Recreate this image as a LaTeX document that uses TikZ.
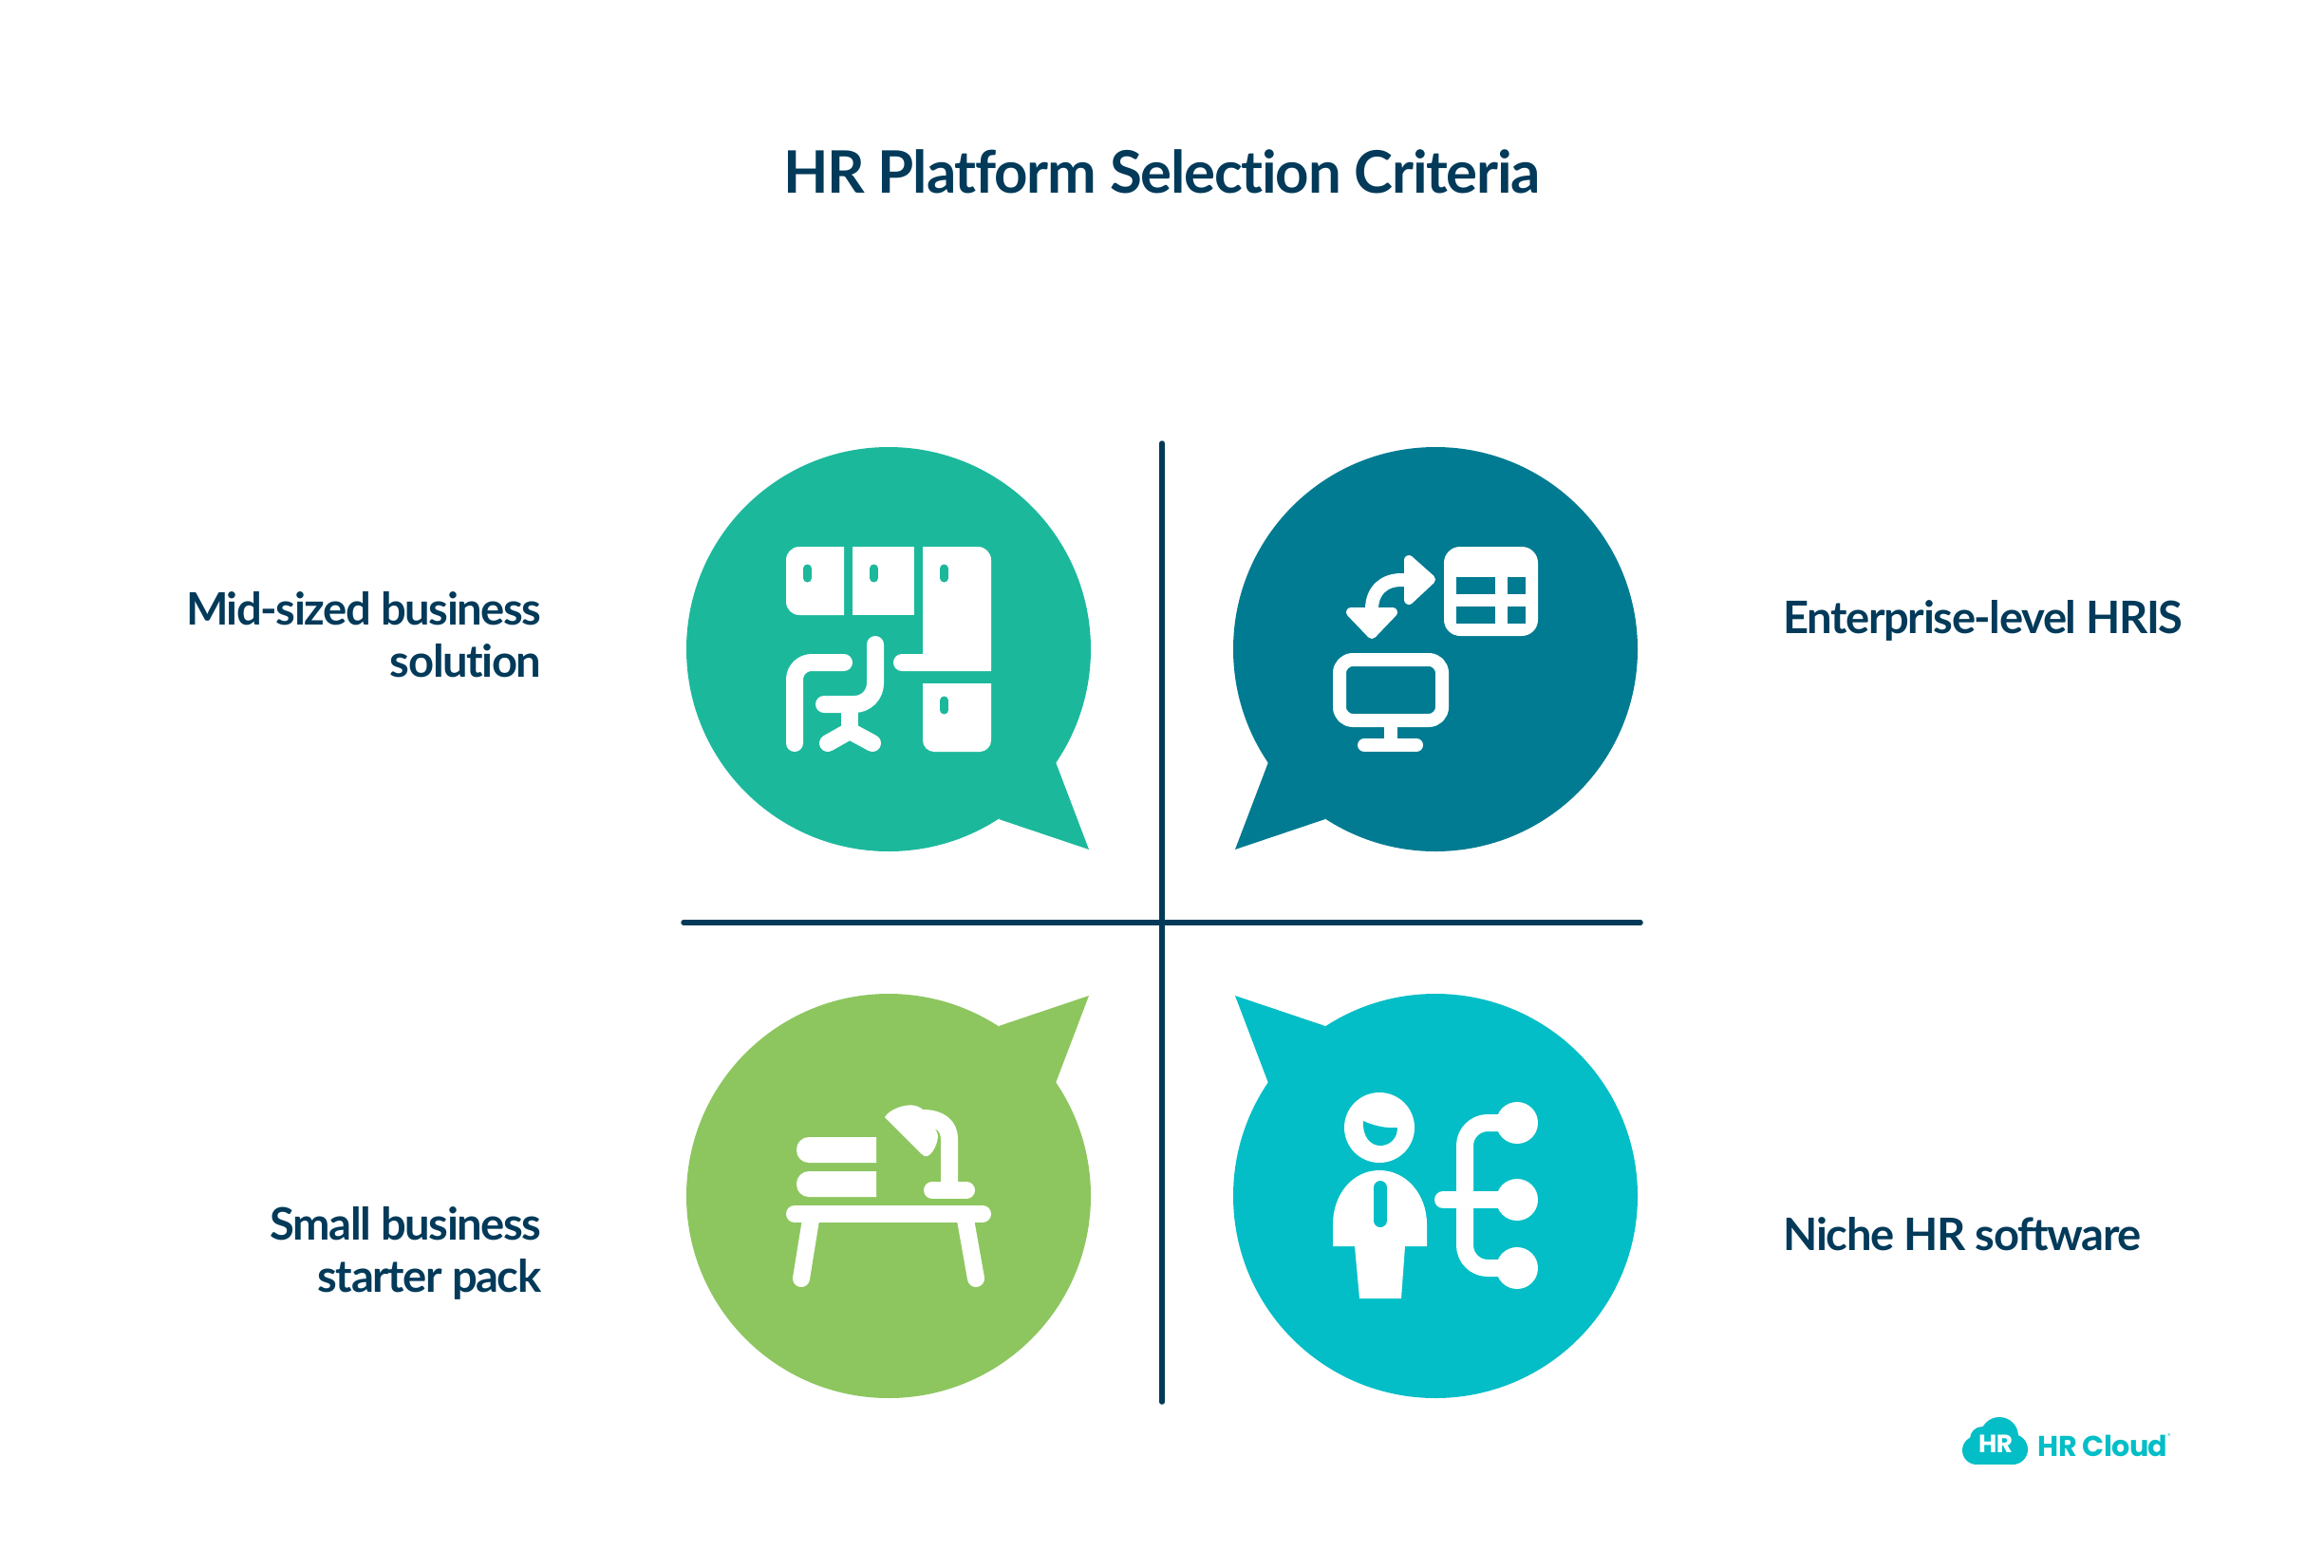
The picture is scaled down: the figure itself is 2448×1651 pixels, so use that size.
\documentclass[tikz,border=0pt]{standalone}
\usepackage{fontspec}
\setmainfont{Lato}
\newfontfamily\titlefont{Lato}[LetterSpace=-2,RawFeature=-liga]
\newfontfamily\labelfont{Lato}[LetterSpace=-3,RawFeature=-liga]
\newfontfamily\logofont{Poppins}[LetterSpace=-2]
\usetikzlibrary{calc}
\definecolor{navy}{HTML}{033A59}
\definecolor{midcol}{HTML}{1CB89C}
\definecolor{entcol}{HTML}{007B91}
\definecolor{smallcol}{HTML}{8DC65F}
\definecolor{nichecol}{HTML}{03BEC6}
\tikzset{
  x=0.01cm,y=-0.01cm,
  axis/.style={navy,line width=0.055cm,line cap=round},
  title text/.style={navy,inner sep=0,font=\fontsize{17.55}{22}\titlefont\bfseries\selectfont},
  label text/.style={navy,inner sep=0,font=\fontsize{13.4}{15.6}\labelfont\bfseries\selectfont},
  icon line/.style={white,line width=#1,line cap=round,line join=round},
  icon line/.default=0.18cm}
\newcommand\speechBubble[4]{
  \fill[#4] (#1) circle (213);
  \fill[#4] ($(#1)+(#2*176,#3*119)$) -- ($(#1)+(#2*211,#3*211)$) -- ($(#1)+(#2*116,#3*179)$) -- cycle;
}
\newcommand\iconHole[3]{
  \draw[#3,line width=0.09cm,line cap=round] (#1,#2) -- ++(0,10);
}
\begin{document}
\begin{tikzpicture}
  \useasboundingbox (0,0) rectangle (2448,1651);
  \coordinate (T) at (1224,467);
  \coordinate (B) at (1224,1477);
  \coordinate (L) at (720,972);
  \coordinate (R) at (1728,972);
  \coordinate (mid) at (936,684);
  \coordinate (ent) at (1512,684);
  \coordinate (small) at (936,1260);
  \coordinate (niche) at (1512,1260);
  
  % TEXT
  \node[title text] (title) at (1224,181) {HR Platform Selection Criteria};
  \node[label text,anchor=east,align=right] (midlabel) at (571,669) {Mid-sized business\\solution};
  \node[label text,anchor=west] (entlabel) at (1878,654) {Enterprise-level HRIS};
  \node[label text,anchor=east,align=right] (smalllabel) at (571,1320) {Small business\\starter pack};
  \node[label text,anchor=west] (nichelabel) at (1878,1300) {Niche HR software};
  
  % AXES
  \draw[axis] (T) -- (B);
  \draw[axis] (L) -- (R);
  
  % BUBBLES
  \speechBubble{mid}{1}{1}{midcol}
  \speechBubble{ent}{-1}{1}{entcol}
  \speechBubble{small}{1}{-1}{smallcol}
  \speechBubble{niche}{-1}{-1}{nichecol}
  
  % OFFICE ICON
  \fill[white] (889,576) -- (889,648) [rounded corners=0.14cm] -- (828,648) -- (828,576) [sharp corners] -- cycle;
  \fill[white] (898,576) rectangle (963,648);
  \fill[white] (972,689) -- (972,576) [rounded corners=0.14cm] -- (1044,576) [sharp corners] -- (1044,707) -- (950,707) arc[start angle=90,end angle=270,radius=9] -- cycle;
  \fill[white] (972,720) -- (1044,720) [rounded corners=0.12cm] -- (1044,792) -- (972,792) [sharp corners] -- cycle;
  \iconHole{850.5}{599}{midcol}
  \iconHole{920.5}{599}{midcol}
  \iconHole{994.5}{599}{midcol}
  \iconHole{994.5}{738}{midcol}
  \draw[icon line,rounded corners=0.18cm] (837,783) -- (837,698) -- (889,698);
  \draw[icon line,rounded corners=0.22cm] (922,679) -- (922,742) -- (868,742);
  \draw[icon line] (895,742) -- (895,770);
  \draw[icon line] (872,783) -- (895,770) -- (919,783);
  
  % TRANSFER ICON
  \fill[white,rounded corners=0.17cm] (1521,576) rectangle (1620,670);
  \fill[entcol] (1534,608) rectangle (1575,626);
  \fill[entcol] (1588,608) rectangle (1607,626);
  \fill[entcol] (1534,639) rectangle (1575,657);
  \fill[entcol] (1588,639) rectangle (1607,657);
  \draw[icon line=0.14cm,rounded corners=0.14cm] (1411,695) rectangle (1519,759);
  \draw[icon line=0.14cm] (1465,766) -- (1465,785);
  \draw[icon line=0.14cm] (1437,785) -- (1492,785);
  \draw[white,line width=0.14cm] (1445,642) .. controls (1445,622) and (1458,611) .. (1476,611) -- (1490,611);
  \draw[icon line=0.10cm,fill=white] (1484,590) -- (1507,610.5) -- (1484,632) -- cycle;
  \draw[icon line=0.10cm,fill=white] (1423,645) -- (1467,645) -- (1445,668) -- cycle;
  
  % DESK ICON
  \fill[white] (923,1198) -- (923,1225) [rounded corners=0.13cm] -- (839,1225) -- (839,1198) [sharp corners] -- cycle;
  \fill[white] (923,1234) -- (923,1261) [rounded corners=0.13cm] -- (839,1261) -- (839,1234) [sharp corners] -- cycle;
  \draw[icon line] (837,1279) -- (1035,1279);
  \draw[icon line] (854,1285) -- (844,1347);
  \draw[icon line] (1017,1285) -- (1028,1347);
  \draw[icon line] (982,1254) -- (1018,1254);
  \draw[icon line] (1000,1254) -- (1000,1200) .. controls (1000,1186) and (990,1178) .. (972,1178);
  \fill[white] (932,1177) .. controls (936,1169) and (960,1158) .. (972,1169) -- (987,1193) .. controls (990,1198) and (985,1214) .. (977,1218) .. controls (975,1219) and (973,1218) .. (971,1216) -- cycle;
  
  % HIERARCHY ICON
  \fill[white] (1453,1188) circle (37);
  \fill[nichecol] (1436,1181) .. controls (1447,1186) and (1460,1189) .. (1472,1188) .. controls (1472,1200) and (1463,1207) .. (1454,1207) .. controls (1444,1207) and (1435,1198) .. (1436,1181) -- cycle;
  \fill[white] (1404,1313) -- (1404,1290) .. controls (1404,1258) and (1425,1233) .. (1453,1233) .. controls (1481,1233) and (1503,1258) .. (1503,1290) -- (1503,1313) -- (1480,1313) -- (1476,1368) -- (1432,1368) -- (1427,1313) -- cycle;
  \draw[nichecol,line width=0.14cm,line cap=round] (1454,1251) -- (1454,1286);
  \draw[icon line,rounded corners=0.24cm] (1598,1183) -- (1543,1183) -- (1543,1336) -- (1598,1336);
  \draw[icon line] (1520,1264) -- (1598,1264);
  \fill[white] (1598,1183) circle (22);
  \fill[white] (1598,1264) circle (22);
  \fill[white] (1598,1336) circle (22);
  
  % LOGO
  \fill[nichecol] (2082,1528) circle (15);
  \fill[nichecol] (2088,1516) circle (13);
  \fill[nichecol] (2106,1513) circle (20);
  \fill[nichecol] (2120,1527) circle (16);
  \fill[nichecol] (2082,1520) rectangle (2120,1543);
  \node[white,inner sep=0,font=\fontsize{7.5}{8}\logofont\bfseries\selectfont] (logomark) at (2102,1521) {HR};
  \node[nichecol,inner sep=0,anchor=west,font=\fontsize{8.6}{10}\logofont\bfseries\selectfont] (logotext) at (2146,1523) {HR Cloud};
  \node[nichecol,inner sep=0,font=\fontsize{2}{3}\logofont\selectfont] (logoreg) at (2285,1513) {®};
  
\end{tikzpicture}
\end{document}
